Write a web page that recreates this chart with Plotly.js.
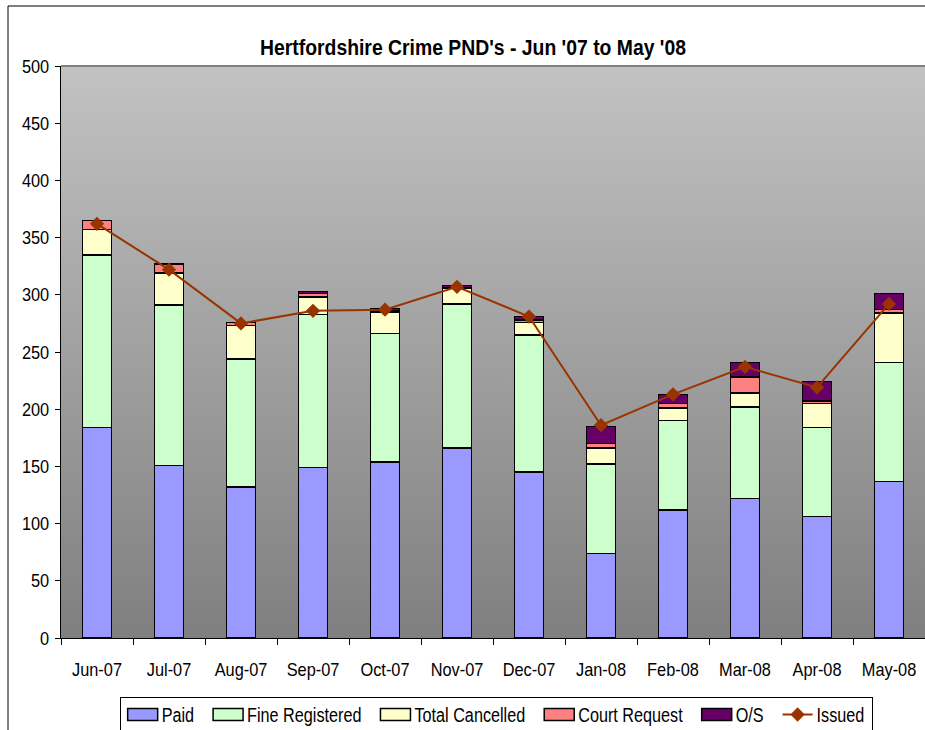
<!DOCTYPE html>
<html>
<head>
<meta charset="utf-8">
<script src="https://cdn.plot.ly/plotly-3.0.1.min.js"></script>
<style>
html,body{margin:0;padding:0;overflow:hidden;background:#fff;}
#chart{width:935px;height:730px;}
</style>
</head>
<body>
<div id="chart"></div>
<script>
const months = ["Jun-07","Jul-07","Aug-07","Sep-07","Oct-07","Nov-07","Dec-07","Jan-08","Feb-08","Mar-08","Apr-08","May-08"];
const paid = [184,151,132,149,154,166,145,74,112,122,106,137];
const fineRegistered = [151,140,112,134,112,126,120,78,78,80,78,104];
const totalCancelled = [22,28,29,15,19,14,11,14,11,12,21,43];
const courtRequest = [8,8,3,3,1,0,2,4,4,14,2,3];
const outstanding = [0,0,0,2,2,2,3,15,8,13,17,14];
const issued = [362,322,275,286,287,307,281,186,213,237,219,292];
const yTicks = [0,50,100,150,200,250,300,350,400,450,500];

const FONT = "'Liberation Sans',Arial,sans-serif";
const outline = {color:"#000000", width:1.5};

function barTrace(name, vals, color){
  return {type:"bar", name:name, x:months, y:vals,
    marker:{color:color, line:outline}};
}

const traces = [
  barTrace("Paid", paid, "#9999FF"),
  barTrace("Fine Registered", fineRegistered, "#CCFFCC"),
  barTrace("Total Cancelled", totalCancelled, "#FFFFCC"),
  barTrace("Court Request", courtRequest, "#FF8080"),
  barTrace("O/S", outstanding, "#660066"),
  {type:"scatter", mode:"lines+markers", name:"Issued", x:months, y:issued,
   line:{color:"#993300", width:2},
   marker:{symbol:"diamond", size:11, color:"#993300"}}
];

const grad = 'data:image/svg+xml;utf8,' + encodeURIComponent(
 '<svg xmlns="http://www.w3.org/2000/svg" width="100" height="100" preserveAspectRatio="none">' +
 '<defs><linearGradient id="g" x1="0" y1="0" x2="0" y2="1">' +
 '<stop offset="0" stop-color="#c2c2c2"/><stop offset="1" stop-color="#7f7f7f"/></linearGradient></defs>' +
 '<rect width="100" height="100" fill="url(#g)"/></svg>');

// plot area: left 61, top 66, width 864, height 572
const PL = 61, PT = 66, PW = 864, PH = 572;
function px2paperX(p){ return (p - PL) / PW; }
function px2paperY(p){ return (PT + PH - p) / PH; }

const layout = {
  width:935, height:730,
  margin:{l:PL, r:935-PL-PW, t:PT, b:730-PT-PH},
  paper_bgcolor:"#ffffff",
  plot_bgcolor:"rgba(0,0,0,0)",
  barmode:"stack",
  bargap:0.6,
  showlegend:true,
  font:{family:FONT, size:19, color:"#000"},
  title:{text:"Hertfordshire Crime PND's - Jun '07 to May '08",
    font:{family:FONT, size:22, color:"#000", weight:"bold"},
    x:473/935, xanchor:"center", y:1-47/730, yanchor:"middle", xref:"container", yref:"container"},
  xaxis:{type:"category", range:[-0.5, 11.5], showgrid:false, showline:true, linecolor:"#000", linewidth:1,
    ticks:"outside", ticklen:6, tickcolor:"#000", tickson:"boundaries", tickangle:0,
    ticklabelstandoff:14, tickfont:{family:FONT, size:19}, zeroline:false},
  yaxis:{range:[0,500], showgrid:false, showline:true, linecolor:"#000", linewidth:1,
    ticks:"outside", ticklen:5, tickcolor:"#000", tickvals:yTicks,
    tickfont:{family:FONT, size:19}, zeroline:false, ticklabelstandoff:2},
  legend:{orientation:"h", x:0.5, xanchor:"center", y:0.5, yanchor:"middle",
    bordercolor:"#000", borderwidth:1, bgcolor:"#fff",
    font:{family:FONT, size:20}, traceorder:"normal", itemwidth:30},
  images:[{source:grad, xref:"paper", yref:"paper", x:0, y:1, sizex:1, sizey:1,
    xanchor:"left", yanchor:"top", sizing:"stretch", layer:"below"}],
  shapes:[
    {type:"line", xref:"paper", yref:"paper", x0:px2paperX(8), x1:px2paperX(8), y0:px2paperY(6), y1:px2paperY(740),
     line:{color:"#000", width:1}},
    {type:"line", xref:"paper", yref:"paper", x0:px2paperX(8), x1:px2paperX(940), y0:px2paperY(6), y1:px2paperY(6),
     line:{color:"#000", width:1}},
    {type:"line", xref:"paper", yref:"paper", x0:0, x1:1, y0:1, y1:1, line:{color:"#808080", width:2}}
  ]
};

Plotly.newPlot("chart", traces, layout, {displayModeBar:false, staticPlot:true}).then(function(gd){
  function squeeze(t, ratio, len){
    const L = t.getComputedTextLength();
    t.setAttribute('textLength', len !== undefined ? len : L * ratio);
    t.setAttribute('lengthAdjust', 'spacingAndGlyphs');
  }
  gd.querySelectorAll('.xtick text, .ytick text').forEach(t => squeeze(t, 0.86));
  const title = gd.querySelector('.gtitle');
  if (title) squeeze(title, 1, 426);

  // legend: compress text and re-lay items like the reference
  const leg = gd.querySelector('g.legend');
  if (leg) {
    const items = [...leg.querySelectorAll('g.traces')];
    const GAP = 14, TX = 39;
    let x = 3;
    items.forEach(g => {
      const m = /translate\(\s*([-\d.e]+)[ ,]+([-\d.e]+)\s*\)/.exec(g.getAttribute('transform') || '');
      const y = (m ? parseFloat(m[2]) : 0) - 3;
      g.setAttribute('transform', 'translate(' + x + ',' + y + ')');
      const t = g.querySelector('text.legendtext');
      squeeze(t, 0.81);
      t.setAttribute('x', TX);
      g.querySelectorAll('.legendpoints path').forEach(p => {
        if ((p.getAttribute('d') || '').indexOf('M6,6H-6V-6H6Z') === 0) {
          p.setAttribute('d', 'M15,6H-15V-6H15Z');
        }
      });
      x += TX + parseFloat(t.getAttribute('textLength')) + GAP;
    });
    const W = x - GAP + 8;
    const bg = leg.querySelector('rect.bg');
    const H = 38;
    if (bg) { bg.setAttribute('width', W); bg.setAttribute('height', H); }
    leg.querySelectorAll('clipPath rect').forEach(r => { r.setAttribute('width', W + 10); });
    leg.setAttribute('transform', 'translate(' + (496 - W / 2) + ',697)');
  }
});
</script>
</body>
</html>
